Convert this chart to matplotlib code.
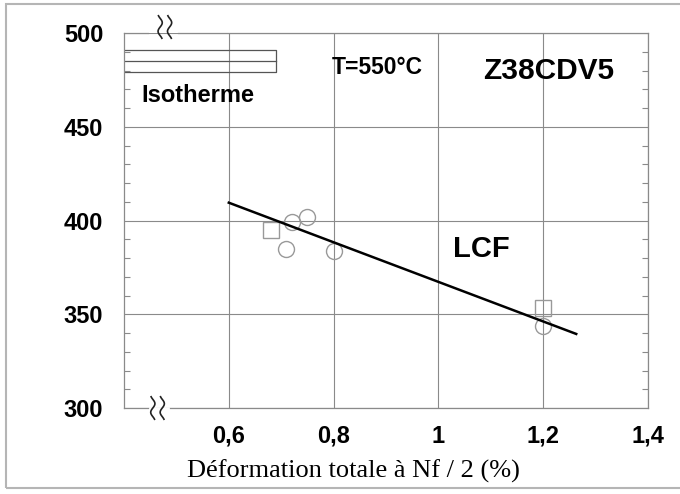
import numpy as np
import matplotlib
matplotlib.use("Agg")
import matplotlib.pyplot as plt
from matplotlib.patches import Rectangle
from matplotlib.ticker import MultipleLocator, FixedLocator

# Données
cercles_x = [0.72, 0.75, 0.71, 0.80, 1.20]
cercles_y = [399, 402, 385, 384, 343.5]
carres_x = [0.68, 1.20]
carres_y = [395, 353.5]
droite_x = [0.60, 1.263]
droite_y = [409.5, 339.5]
xticks = [0.6, 0.8, 1.0, 1.2, 1.4]
xtick_labels = ["0,6", "0,8", "1", "1,2", "1,4"]
yticks = [300, 350, 400, 450, 500]

gris = "#8a8a8a"

fig = plt.figure(figsize=(6.8, 4.94), dpi=100)
ax = fig.add_axes([124 / 680, 1 - 408 / 494, 524 / 680, 375 / 494])

# cadre autour de la figure
fig.patches.append(Rectangle((6 / 680, 6 / 494), 1.0, 484 / 494, transform=fig.transFigure,
                             fill=False, edgecolor="#b5b5b5", linewidth=1.5))

ax.set_xlim(0.4, 1.4)
ax.set_ylim(300, 500)

ax.xaxis.set_major_locator(FixedLocator(xticks))
ax.set_xticklabels(xtick_labels)
ax.yaxis.set_major_locator(FixedLocator(yticks))
ax.yaxis.set_minor_locator(MultipleLocator(10))

for lab in ax.get_xticklabels() + ax.get_yticklabels():
    lab.set_fontfamily("Liberation Sans")
    lab.set_fontweight("bold")
    lab.set_fontsize(17)

ax.tick_params(axis="x", which="major", length=0, pad=12)
ax.tick_params(axis="y", which="major", length=0, pad=15)
ax.tick_params(axis="y", which="minor", direction="in", length=4, width=0.8,
               color=gris, left=True, right=True)

ax.grid(True, which="major", color=gris, linewidth=0.8)

for s in ["left", "right"]:
    ax.spines[s].set_color(gris)
    ax.spines[s].set_linewidth(0.9)
ax.spines["top"].set_visible(False)
ax.spines["bottom"].set_visible(False)

# axes haut / bas interrompus
ax.plot([0, 0.046], [1, 1], color=gris, lw=0.9, transform=ax.transAxes, clip_on=False)
ax.plot([0.103, 1], [1, 1], color=gris, lw=0.9, transform=ax.transAxes, clip_on=False)
ax.plot([0, 0.046], [0, 0], color=gris, lw=0.9, transform=ax.transAxes, clip_on=False)
ax.plot([0.088, 1], [0, 0], color=gris, lw=0.9, transform=ax.transAxes, clip_on=False)


def coupure(xc, yc):
    t = np.linspace(-1, 1, 40)
    for dx in (-0.009, 0.009):
        ax.plot(xc + dx + 0.004 * np.sin(t * np.pi * 1.3), yc + 0.03 * t,
                color="#222222", lw=1.2, transform=ax.transAxes, clip_on=False)


coupure(0.078, 1.016)
coupure(0.064, 0.0)

# zone "Isotherme"
ax.plot([0.4, 0.69, 0.69, 0.4], [491, 491, 479, 479], color="#555555", lw=0.9)
ax.plot([0.4, 0.69], [485, 485], color="#555555", lw=0.9)

ax.plot(droite_x, droite_y, color="black", lw=1.8, zorder=4)
ax.plot(cercles_x, cercles_y, linestyle="none", marker="o", markersize=11.5,
        markerfacecolor="none", markeredgecolor="#999999", markeredgewidth=1.0, zorder=3)
ax.plot(carres_x, carres_y, linestyle="none", marker="s", markersize=11,
        markerfacecolor="none", markeredgecolor="#999999", markeredgewidth=1.0, zorder=3)

ax.text(0.434, 466.5, "Isotherme", fontfamily="Liberation Sans", fontweight="bold",
        fontsize=17, va="center", ha="left")
ax.text(0.796, 481.5, "T=550°C", fontfamily="Liberation Sans", fontweight="bold",
        fontsize=16.5, va="center", ha="left")
ax.text(1.085, 479.5, "Z38CDV5", fontfamily="Liberation Sans", fontweight="bold",
        fontsize=21.5, va="center", ha="left")
ax.text(1.027, 385, "LCF", fontfamily="Liberation Sans", fontweight="bold",
        fontsize=21, va="center", ha="left")

ax.set_xlabel("Déformation totale à Nf / 2 (%)", fontfamily="Liberation Serif",
              fontsize=19)
ax.xaxis.set_label_coords(0.437, -0.138)

fig.savefig("out.png", dpi=100)
